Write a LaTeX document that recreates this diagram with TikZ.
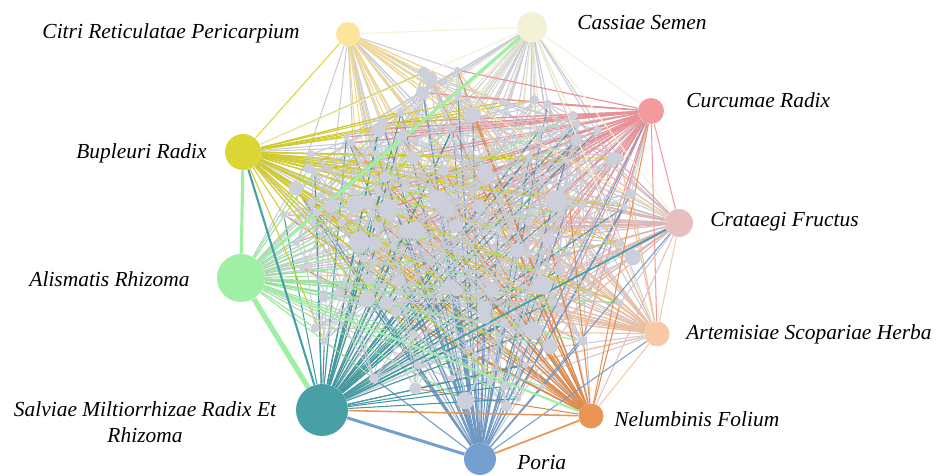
\documentclass[tikz,border=0pt]{standalone}
\usepackage{fontspec}
\setmainfont{Liberation Serif}
\usetikzlibrary{backgrounds}

\definecolor{citri}{HTML}{FDE49A}
\definecolor{cassiae}{HTML}{F3F2D6}
\definecolor{curcumae}{HTML}{F4999E}
\definecolor{crataegi}{HTML}{E8BFC1}
\definecolor{artemisiae}{HTML}{F7C9A7}
\definecolor{nelumbinis}{HTML}{EA9455}
\definecolor{poria}{HTML}{759FCE}
\definecolor{salviae}{HTML}{48A0A6}
\definecolor{alismatis}{HTML}{9FF0A4}
\definecolor{bupleuri}{HTML}{DCD635}
\definecolor{cpdgray}{HTML}{CDD0DA}
\definecolor{linkgray}{HTML}{C9CCD6}

\tikzset{
  herb/.style={circle, inner sep=0pt, draw=none, minimum size=#1*0.02cm},
  cpd/.style={circle, inner sep=0pt, draw=none, fill=cpdgray},
  lbl/.style={font=\itshape\fontsize{12.2}{14.5}\selectfont, inner sep=0pt},
  link/.style={line width=0.6pt},
  glink/.style={line width=0.6pt, linkgray},
}

\begin{document}
\begin{tikzpicture}[x=0.02cm,y=-0.02cm]
\useasboundingbox (0,0) rectangle (938,476);
\pgfmathsetseed{4211}

% compounds in the middle
\foreach \i in {1,...,125}{
  \pgfmathsetmacro{\ang}{360*rnd}
  \pgfmathsetmacro{\rad}{sqrt(rnd)}
  \pgfmathsetmacro{\sz}{3.5+15*rnd*rnd*(1-0.55*\rad)}
  \node[cpd, minimum size=\sz pt] (c\i) at ({462+182*\rad*cos(\ang)},{240+172*\rad*sin(\ang)}) {};
}

% herbs
\node[herb=24, fill=citri] (citri) at (348,34) {};
\node[herb=30, fill=cassiae] (cassiae) at (532,27) {};
\node[herb=26, fill=curcumae] (curcumae) at (651,111) {};
\node[herb=28, fill=crataegi] (crataegi) at (679,223) {};
\node[herb=25, fill=artemisiae] (artemisiae) at (657,334) {};
\node[herb=25, fill=nelumbinis] (nelumbinis) at (591,416) {};
\node[herb=32, fill=poria] (poria) at (480,459) {};
\node[herb=52, fill=salviae] (salviae) at (322,410) {};
\node[herb=48, fill=alismatis] (alismatis) at (241,278) {};
\node[herb=36, fill=bupleuri] (bupleuri) at (243,152) {};

% labels
\node[lbl, anchor=east] (citriL) at (300,33) {Citri Reticulatae Pericarpium};
\node[lbl, anchor=west] (cassiaeL) at (577,23) {Cassiae Semen};
\node[lbl, anchor=west] (curcumaeL) at (686,100) {Curcumae Radix};
\node[lbl, anchor=east] (bupleuriL) at (207,153) {Bupleuri Radix};
\node[lbl, anchor=west] (crataegiL) at (710,222) {Crataegi Fructus};
\node[lbl, anchor=east] (alismatisL) at (190,279) {Alismatis Rhizoma};
\node[lbl, anchor=west] (artemisiaeL) at (686,334) {Artemisiae Scopariae Herba};
\node[lbl, anchor=west] (nelumbinisL) at (614,419) {Nelumbinis Folium};
\node[lbl, anchor=west] (poriaL) at (517,463) {Poria};
\node[lbl, align=center] (salviaeL) at (145,422) {Salviae Miltiorrhizae Radix Et\\Rhizoma};

\begin{scope}[on background layer]
  % herb -- compound, grey
  \foreach \h/\n in {citri/22,cassiae/30,curcumae/14,crataegi/16,artemisiae/16,
                     nelumbinis/12,poria/16,salviae/24,alismatis/26,bupleuri/18}{
    \foreach \j in {1,...,\n}{
      \pgfmathrandominteger{\k}{1}{125}
      \draw[glink] (\h) -- (c\k);
    }
  }
  % compound -- compound, lower half
  \foreach \j in {1,...,200}{
    \pgfmathrandominteger{\a}{1}{125}
    \pgfmathrandominteger{\b}{1}{125}
    \draw[glink] (c\a) -- (c\b);
  }
  % herb -- compound, coloured
  \foreach \h/\n in {citri/22,cassiae/16,curcumae/48,crataegi/28,artemisiae/32,
                     nelumbinis/40,poria/48,salviae/52,alismatis/34,bupleuri/52}{
    \foreach \j in {1,...,\n}{
      \pgfmathrandominteger{\k}{1}{125}
      \draw[link, \h!95!black] (\h) -- (c\k);
    }
  }
  % compound -- compound, upper half
  \foreach \j in {1,...,150}{
    \pgfmathrandominteger{\a}{1}{125}
    \pgfmathrandominteger{\b}{1}{125}
    \draw[glink] (c\a) -- (c\b);
  }
  % herb -- herb
  \draw[link, cassiae] (citri) -- (cassiae);
  \draw[link, bupleuri] (citri) -- (bupleuri);
  \draw[link, citri] (citri) -- (crataegi);
  \draw[link, cassiae] (cassiae) -- (curcumae);
  \draw[link, cassiae] (cassiae) -- (bupleuri);
  \draw[link, cassiae] (cassiae) -- (crataegi);
  \draw[link, cassiae] (cassiae) -- (artemisiae);
  \draw[link, curcumae] (curcumae) -- (crataegi);
  \draw[link, curcumae] (curcumae) -- (artemisiae);
  \draw[link, nelumbinis] (curcumae) -- (nelumbinis);
  \draw[link, poria] (curcumae) -- (poria);
  \draw[link, artemisiae] (crataegi) -- (artemisiae);
  \draw[link, crataegi] (crataegi) -- (nelumbinis);
  \draw[link, poria] (crataegi) -- (poria);
  \draw[link, salviae, line width=1pt] (crataegi) -- (salviae);
  \draw[link, poria] (artemisiae) -- (poria);
  \draw[link, artemisiae] (artemisiae) -- (nelumbinis);
  \draw[nelumbinis, line width=1pt] (poria) -- (nelumbinis);
  \draw[nelumbinis, line width=0.9pt] (salviae) -- (nelumbinis);
  \draw[poria, line width=1.7pt] (salviae) -- (poria);
  \draw[alismatis, line width=1.2pt] (alismatis) -- (nelumbinis);
  \draw[alismatis, line width=3pt] (alismatis) -- (salviae);
  \draw[alismatis, line width=1.8pt] (bupleuri) -- (alismatis);
  \draw[alismatis, line width=1.8pt] (cassiae) -- (alismatis);
  \draw[salviae, line width=1.2pt] (bupleuri) -- (salviae);
\end{scope}
\end{tikzpicture}
\end{document}
